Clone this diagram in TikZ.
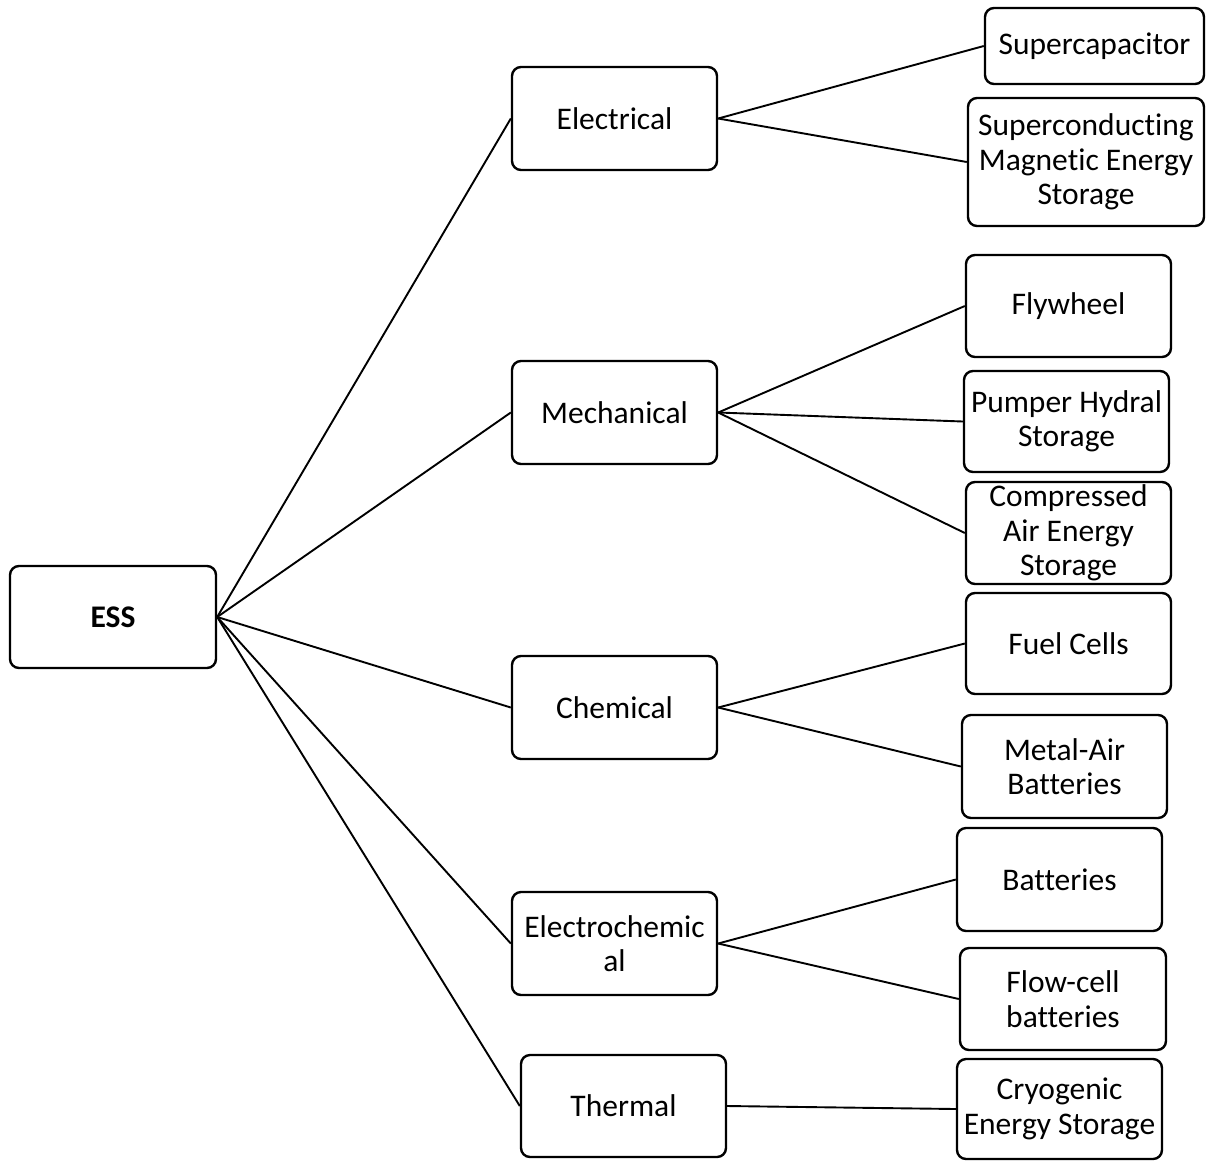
\documentclass[tikz,border=0pt]{standalone}
\usepackage{fontspec}
\setmainfont{Carlito}[Ligatures=NoCommon]
\begin{document}
\begin{tikzpicture}[x=1pt,y=-1pt,
  box/.style={draw, line width=2.4pt, rounded corners=9pt, inner sep=0pt, align=center,
    font=\fontsize{31.5}{34.5}\selectfont},
  link/.style={line width=1.9pt}]
\useasboundingbox (0,0) rectangle (1206,1160);
\node[box, minimum width=206, minimum height=102, font=\fontsize{31.5}{34.5}\selectfont\bfseries] (ess) at (113,617) {ESS};
\node[box, minimum width=205, minimum height=103] (elec) at (614.5,118.5) {Electrical};
\node[box, minimum width=205, minimum height=103] (mech) at (614.5,412.5) {Mechanical};
\node[box, minimum width=205, minimum height=103] (chem) at (614.5,707.5) {Chemical};
\node[box, minimum width=205, minimum height=103] (echem) at (614.5,943.5) {Electrochemic\\al};
\node[box, minimum width=205, minimum height=102] (therm) at (623.5,1106) {Thermal};
\node[box, minimum width=219, minimum height=76] (supc) at (1094.5,46) {Supercapacitor};
\node[box, minimum width=236, minimum height=128] (smes) at (1086,162) {Superconducting\\Magnetic Energy\\Storage};
\node[box, minimum width=205, minimum height=102] (fly) at (1068.5,306) {Flywheel};
\node[box, minimum width=205, minimum height=101] (phs) at (1066.5,421.5) {Pumper Hydral\\Storage};
\node[box, minimum width=205, minimum height=102] (caes) at (1068.5,533) {Compressed\\Air Energy\\Storage};
\node[box, minimum width=205, minimum height=101] (fuel) at (1068.5,643.5) {Fuel Cells};
\node[box, minimum width=205, minimum height=103] (metal) at (1064.5,766.5) {Metal-Air\\Batteries};
\node[box, minimum width=205, minimum height=103] (batt) at (1059.5,879.5) {Batteries};
\node[box, minimum width=206, minimum height=102] (flow) at (1063,999) {Flow-cell\\batteries};
\node[box, minimum width=205, minimum height=100] (cryo) at (1059.5,1109) {Cryogenic\\Energy Storage};
\foreach \m in {elec,mech,chem,echem,therm} \draw[link] (ess.east) -- (\m.west);
\draw[link] (elec.east) -- (supc.west);
\draw[link] (elec.east) -- (smes.west);
\draw[link] (mech.east) -- (fly.west);
\draw[link] (mech.east) -- (phs.west);
\draw[link] (mech.east) -- (caes.west);
\draw[link] (chem.east) -- (fuel.west);
\draw[link] (chem.east) -- (metal.west);
\draw[link] (echem.east) -- (batt.west);
\draw[link] (echem.east) -- (flow.west);
\draw[link] (therm.east) -- (cryo.west);
\end{tikzpicture}
\end{document}
